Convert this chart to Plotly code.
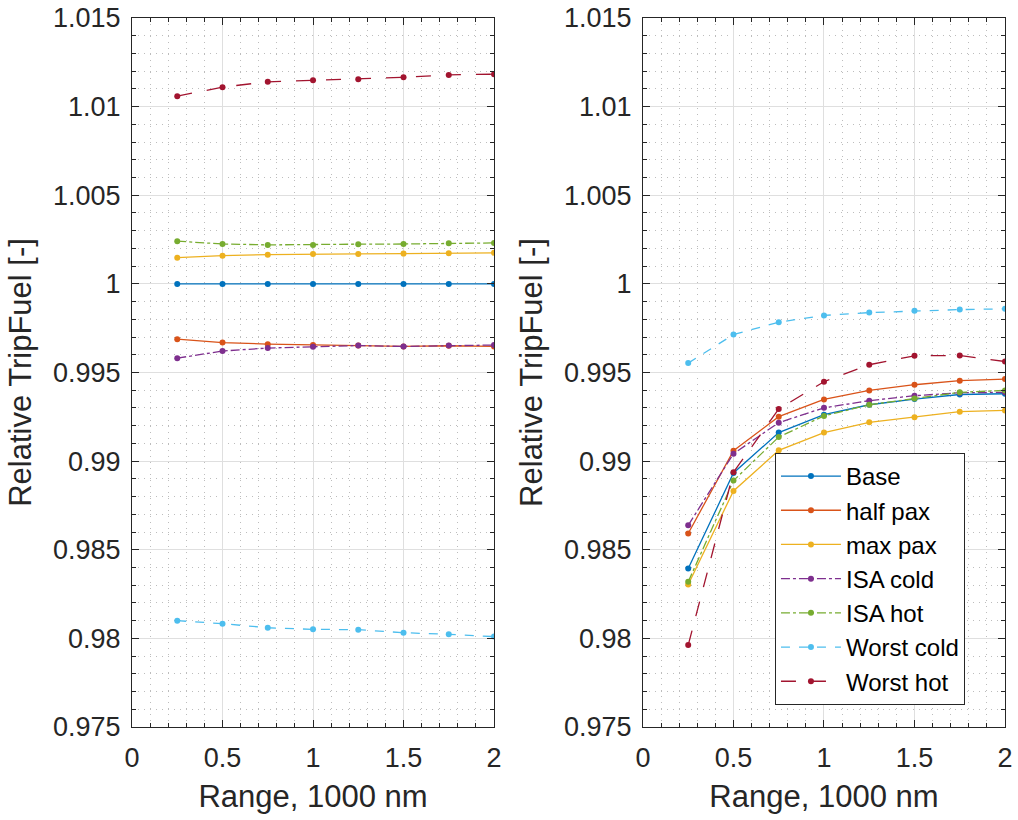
import plotly.graph_objects as go

rng = [0.25, 0.5, 0.75, 1.0, 1.25, 1.5, 1.75, 2.0]
names = ["Base", "half pax", "max pax", "ISA cold", "ISA hot", "Worst cold", "Worst hot"]

left_base = [1.0, 1.0, 1.0, 1.0, 1.0, 1.0, 1.0, 1.0]
left_half_pax = [0.99688, 0.99669, 0.99660, 0.99655, 0.99652, 0.99647, 0.99651, 0.99647]
left_max_pax = [1.00148, 1.00159, 1.00165, 1.00169, 1.00169, 1.00171, 1.00173, 1.00175]
left_isa_cold = [0.99581, 0.99621, 0.99638, 0.99645, 0.99652, 0.99647, 0.99652, 0.99655]
left_isa_hot = [1.00241, 1.00225, 1.00220, 1.00220, 1.00224, 1.00225, 1.00229, 1.00231]
left_worst_cold = [0.98100, 0.98083, 0.98060, 0.98051, 0.98049, 0.98032, 0.98023, 0.98010]
left_worst_hot = [1.01059, 1.01110, 1.01140, 1.01149, 1.01155, 1.01166, 1.01179, 1.01183]

right_base = [0.98394, 0.98933, 0.99161, 0.99262, 0.99318, 0.99350, 0.99376, 0.99380]
right_half_pax = [0.98592, 0.99059, 0.99251, 0.99348, 0.99399, 0.99431, 0.99454, 0.99463]
right_max_pax = [0.98304, 0.98832, 0.99061, 0.99161, 0.99219, 0.99247, 0.99279, 0.99286]
right_isa_cold = [0.98638, 0.99042, 0.99217, 0.99301, 0.99341, 0.99369, 0.99386, 0.99388]
right_isa_hot = [0.98319, 0.98890, 0.99136, 0.99255, 0.99318, 0.99354, 0.99388, 0.99399]
right_worst_cold = [0.99553, 0.99714, 0.99784, 0.99822, 0.99838, 0.99848, 0.99855, 0.99859]
right_worst_hot = [0.97962, 0.98937, 0.99294, 0.99448, 0.99544, 0.99594, 0.99596, 0.99562]

x_ticks = [0, 0.5, 1, 1.5, 2]
x_ticktext = ["0", "0.5", "1", "1.5", "2"]
y_ticks = [0.975, 0.98, 0.985, 0.99, 0.995, 1.0, 1.005, 1.01, 1.015]
y_ticktext = ["0.975", "0.98", "0.985", "0.99", "0.995", "1", "1.005", "1.01", "1.015"]

colors = ["#0072BD", "#D95319", "#EDB120", "#7E2F8E", "#77AC30", "#4DBEEE", "#A2142F"]
dashes = ["solid", "solid", "solid", "dashdot", "dashdot", "dash", "longdash"]

left = [left_base, left_half_pax, left_max_pax, left_isa_cold, left_isa_hot, left_worst_cold, left_worst_hot]
right = [right_base, right_half_pax, right_max_pax, right_isa_cold, right_isa_hot, right_worst_cold, right_worst_hot]

fig = go.Figure()
for i, nm in enumerate(names):
    fig.add_trace(go.Scatter(x=rng, y=left[i], mode="lines+markers", name=nm, showlegend=False,
                             line=dict(color=colors[i], width=1.3, dash=dashes[i]),
                             marker=dict(color=colors[i], size=6), xaxis="x", yaxis="y"))
for i, nm in enumerate(names):
    fig.add_trace(go.Scatter(x=rng, y=right[i], mode="lines+markers", name=nm, showlegend=True,
                             line=dict(color=colors[i], width=1.3, dash=dashes[i]),
                             marker=dict(color=colors[i], size=6), xaxis="x2", yaxis="y2"))

FAM = "Liberation Sans, Arial, sans-serif"
tickfont = dict(family=FAM, size=27, color="#262626")
titlefont = dict(family=FAM, size=31, color="#262626")

def xax(domain, anchor):
    return dict(domain=domain, anchor=anchor, range=[0, 2], tickvals=x_ticks, ticktext=x_ticktext,
                showline=True, linecolor="#262626", linewidth=1, mirror="ticks",
                ticks="inside", ticklen=7, tickcolor="#262626", automargin=False,
                ticklabelstandoff=7, ticklabeloverflow="allow",
                showgrid=True, gridcolor="#DFDFDF", gridwidth=1, zeroline=False,
                minor=dict(dtick=0.1, showgrid=True, gridcolor="#BDBDBD", griddash="1px,5px", gridwidth=1,
                           ticks="inside", ticklen=4, tickcolor="#262626"),
                title=dict(text="Range, 1000 nm", font=titlefont, standoff=12),
                tickfont=tickfont)

def yax(anchor):
    return dict(domain=[0, 1], anchor=anchor, range=[0.975, 1.015], tickvals=y_ticks, ticktext=y_ticktext,
                showline=True, linecolor="#262626", linewidth=1, mirror="ticks",
                ticks="inside", ticklen=7, tickcolor="#262626", automargin=False,
                ticklabelstandoff=5, ticklabeloverflow="allow",
                showgrid=True, gridcolor="#DFDFDF", gridwidth=1, zeroline=False,
                minor=dict(dtick=0.001, showgrid=True, gridcolor="#BDBDBD", griddash="1px,5px", gridwidth=1,
                           ticks="inside", ticklen=4, tickcolor="#262626"),
                title=dict(text="Relative TripFuel [-]", font=titlefont, standoff=12),
                tickfont=tickfont)

fig.update_layout(
    width=1018, height=820,
    margin=dict(l=132, r=13, t=18, b=93),
    paper_bgcolor="white", plot_bgcolor="white",
    font=tickfont,
    xaxis=xax([0, 0.4147], "y"),
    yaxis=yax("x"),
    xaxis2=xax([0.5853, 1], "y2"),
    yaxis2=yax("x2"),
    legend=dict(x=0.7365, y=0.3865, xanchor="left", yanchor="top",
                bgcolor="white", bordercolor="#262626", borderwidth=1,
                font=dict(size=24, family=FAM, color="black"),
                tracegroupgap=0, itemwidth=60),
)

fig.write_html("out.html",
               config={"displayModeBar": False},
               post_script="document.body.style.margin='0';document.body.style.overflow='hidden';")
